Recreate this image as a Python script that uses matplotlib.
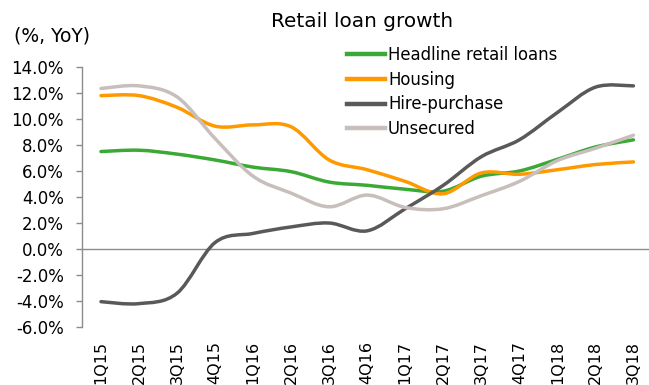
import matplotlib
matplotlib.use("Agg")
import matplotlib.pyplot as plt
from matplotlib.path import Path
from matplotlib.patches import PathPatch
from matplotlib.ticker import FuncFormatter
import numpy as np

quarters = ["1Q15", "2Q15", "3Q15", "4Q15", "1Q16", "2Q16", "3Q16", "4Q16",
            "1Q17", "2Q17", "3Q17", "4Q17", "1Q18", "2Q18", "3Q18"]
headline = [7.5, 7.6, 7.3, 6.85, 6.3, 5.95, 5.15, 4.9, 4.6, 4.45, 5.6, 6.0, 6.9, 7.85, 8.4]
housing = [11.8, 11.8, 10.9, 9.45, 9.55, 9.4, 6.85, 6.1, 5.2, 4.25, 5.85, 5.75, 6.1, 6.5, 6.7]
hire_purchase = [-4.05, -4.2, -3.4, 0.5, 1.2, 1.7, 2.0, 1.4, 3.1, 4.9, 7.1, 8.4, 10.5, 12.45, 12.55]
unsecured = [12.35, 12.55, 11.7, 8.5, 5.6, 4.3, 3.25, 4.15, 3.2, 3.1, 4.1, 5.2, 6.8, 7.75, 8.75]

series = [
    ("Headline retail loans", headline, "#3aa935"),
    ("Housing", housing, "#ff9900"),
    ("Hire-purchase", hire_purchase, "#595959"),
    ("Unsecured", unsecured, "#c8bebb"),
]

plt.rcParams["font.family"] = ["DejaVu Sans"]

fig = plt.figure(figsize=(6.49, 3.85), dpi=100)
ax = fig.add_axes([0.1263, 0.1506, 0.879, 0.6753])


def smooth_path(xs, ys):
    """Bezier path through every point, like a spreadsheet's smoothed line."""
    pts = np.column_stack([xs, ys]).astype(float)
    n = len(pts)
    verts = [pts[0]]
    codes = [Path.MOVETO]
    for i in range(n - 1):
        p0 = pts[i - 1] if i > 0 else pts[i]
        p1 = pts[i]
        p2 = pts[i + 1]
        p3 = pts[i + 2] if i + 2 < n else pts[i + 1]
        c1 = p1 + (p2 - p0) / 6.0
        c2 = p2 - (p3 - p1) / 6.0
        verts += [c1, c2, p2]
        codes += [Path.CURVE4] * 3
    return Path(verts, codes)


x = np.arange(len(quarters))
for name, vals, color in series:
    patch = PathPatch(smooth_path(x, vals), facecolor="none", edgecolor=color,
                      lw=2.5, capstyle="round", joinstyle="round", zorder=3)
    ax.add_patch(patch)
    ax.plot([], [], color=color, lw=3.2, label=name)

ax.axhline(0, color="#8c8c8c", lw=1.0, zorder=2)

ax.set_xlim(-0.5, len(quarters) - 0.5)
ax.set_ylim(-6, 14)
ax.set_yticks(np.arange(-6, 14.1, 2))
ax.yaxis.set_major_formatter(FuncFormatter(lambda v, p: f"{v:.1f}%"))
ax.set_xticks(x)
ax.set_xticklabels(quarters, rotation=90, fontsize=11.5)
ax.tick_params(axis="x", length=0, pad=10)
ax.tick_params(axis="y", length=4, width=1, color="#8c8c8c", labelsize=12, pad=9)

for side in ["top", "right", "bottom"]:
    ax.spines[side].set_visible(False)
ax.spines["left"].set_color("#8c8c8c")
ax.spines["left"].set_linewidth(1.0)

fig.text(0.558, 0.943, "Retail loan growth", ha="center", va="center", fontsize=14.4)
fig.text(0.021, 0.906, "(%, YoY)", ha="left", va="center", fontsize=13.5)

leg = fig.legend(loc="upper left", bbox_to_anchor=(0.524, 0.897),
                 bbox_transform=fig.transFigure, frameon=False,
                 fontsize=11.9, handlelength=2.3, handletextpad=0.2,
                 labelspacing=0.4, borderaxespad=0)

fig.savefig("out.png", dpi=100)
